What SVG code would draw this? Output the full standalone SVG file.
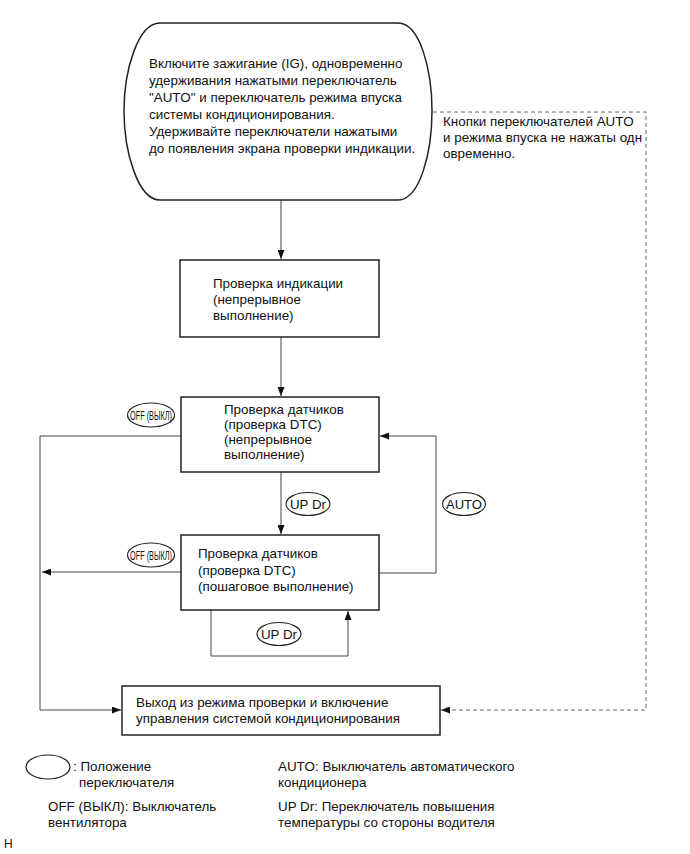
<svg xmlns="http://www.w3.org/2000/svg" width="690" height="854" viewBox="0 0 690 854">
<style>
text{font-family:"Liberation Sans",Arial,sans-serif;font-size:13.4px;fill:#111}
.box{fill:#fff;stroke:#222;stroke-width:1.5}
.ln{fill:none;stroke:#444;stroke-width:1}
.dash{fill:none;stroke:#666;stroke-width:1;stroke-dasharray:4,3}
.el{fill:#fff;stroke:#222;stroke-width:1.2}
.sm{font-size:12px}
</style>
<defs>
<marker id="ah" markerWidth="9" markerHeight="7" refX="9" refY="3.5" orient="auto" markerUnits="userSpaceOnUse">
<path d="M0,0 L9,3.5 L0,7 Z" fill="#111"/>
</marker>
</defs>
<g id="connectors">
<path class="ln" d="M281,200 V259" marker-end="url(#ah)"/>
<path class="ln" d="M281,337 V396" marker-end="url(#ah)"/>
<path class="ln" d="M281,472 V534" marker-end="url(#ah)"/>
<path class="ln" d="M181,436 H40 V710 H121" marker-end="url(#ah)"/>
<path class="ln" d="M181,572 H42" marker-end="url(#ah)"/>
<path class="ln" d="M379,573 H436 V436 H380" marker-end="url(#ah)"/>
<path class="ln" d="M211,610 V656 H348 V611" marker-end="url(#ah)"/>
<path class="dash" d="M433,112 H646 V710 H441" marker-end="url(#ah)"/>
</g>
<g id="start">
<path class="box" d="M160,23 H398 C420,23 432,70 432,111 C432,152 420,200 398,200 H160 C138,200 124,152 124,111 C124,70 138,23 160,23 Z"/>
<text x="149" y="68">Включите зажигание (IG), одновременно</text>
<text x="149" y="85">удерживания нажатыми переключатель</text>
<text x="149" y="102">"AUTO" и переключатель режима впуска</text>
<text x="149" y="119">системы кондиционирования.</text>
<text x="149" y="136">Удерживайте переключатели нажатыми</text>
<text x="149" y="153">до появления экрана проверки индикации.</text>
</g>
<g id="note">
<text x="443" y="126">Кнопки переключателей AUTO</text>
<text x="443" y="142">и режима впуска не нажаты одн</text>
<text x="443" y="158">овременно.</text>
</g>
<g id="box-indication">
<rect class="box" x="180" y="260" width="199" height="77"/>
<text x="213" y="288">Проверка индикации</text>
<text x="213" y="304">(непрерывное</text>
<text x="213" y="320">выполнение)</text>
</g>
<g id="box-sensor-cont">
<rect class="box" x="181" y="397" width="198" height="75"/>
<text x="224" y="414">Проверка датчиков</text>
<text x="224" y="429">(проверка DTC)</text>
<text x="224" y="444">(непрерывное</text>
<text x="224" y="459">выполнение)</text>
</g>
<g id="box-sensor-step">
<rect class="box" x="181" y="535" width="198" height="75"/>
<text x="198" y="558">Проверка датчиков</text>
<text x="198" y="575">(проверка DTC)</text>
<text x="198" y="591">(пошаговое выполнение)</text>
</g>
<g id="box-exit">
<rect class="box" x="122" y="686" width="318" height="49"/>
<text x="136" y="707">Выход из режима проверки и включение</text>
<text x="136" y="723">управления системой кондиционирования</text>
</g>
<g id="lbl-off1">
<ellipse class="el" cx="151" cy="415" rx="23.5" ry="12"/>
<text class="sm" x="130" y="419.5" textLength="42" lengthAdjust="spacingAndGlyphs">OFF (ВЫКЛ)</text>
</g>
<g id="lbl-off2">
<ellipse class="el" cx="151" cy="555" rx="23.5" ry="12"/>
<text class="sm" x="130" y="559.5" textLength="42" lengthAdjust="spacingAndGlyphs">OFF (ВЫКЛ)</text>
</g>
<g id="lbl-updr1">
<ellipse class="el" cx="308" cy="504" rx="22" ry="11.5"/>
<text x="290" y="509" textLength="36" lengthAdjust="spacingAndGlyphs">UP Dr</text>
</g>
<g id="lbl-auto">
<ellipse class="el" cx="464" cy="504" rx="21.5" ry="11.5"/>
<text x="446" y="509" textLength="36" lengthAdjust="spacingAndGlyphs">AUTO</text>
</g>
<g id="lbl-updr2">
<ellipse class="el" cx="279" cy="634" rx="22" ry="11.5"/>
<text x="261" y="639" textLength="36" lengthAdjust="spacingAndGlyphs">UP Dr</text>
</g>
<g id="legend">
<ellipse class="el" cx="48" cy="767" rx="22" ry="12"/>
<text x="73" y="771">: Положение</text>
<text x="79" y="787">переключателя</text>
<text x="278" y="771">AUTO: Выключатель автоматического</text>
<text x="278" y="787">кондиционера</text>
<text x="48" y="811">OFF (ВЫКЛ): Выключатель</text>
<text x="48" y="827">вентилятора</text>
<text x="278" y="811">UP Dr: Переключатель повышения</text>
<text x="278" y="827">температуры со стороны водителя</text>
<text x="4" y="848" style="font-size:12px">H</text>
</g>
</svg>
